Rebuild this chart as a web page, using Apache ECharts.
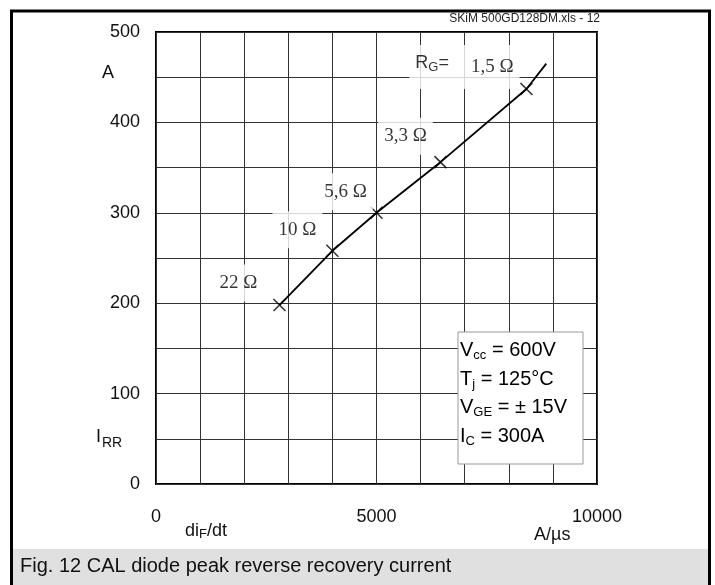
<!DOCTYPE html>
<html>
<head>
<meta charset="utf-8">
<script src="https://cdn.jsdelivr.net/npm/echarts@6/dist/echarts.min.js"></script>
<style>
html,body{margin:0;padding:0;background:#fff;}
#c{width:715px;height:585px;}
</style>
</head>
<body>
<div id="c"></div>
<script>
// ---- data ----
var curveX = [2800, 4000, 5000, 6450, 8400, 8850];
var curveY = [198, 258, 300, 356, 437, 465];
var pointX = [2800, 4000, 5000, 6450, 8400];
var pointY = [198, 258, 300, 356, 437];
var rgLabels = ['22 Ω', '10 Ω', '5,6 Ω', '3,3 Ω', '1,5 Ω'];
var xTickLabels = [0, 5000, 10000];
var yTickLabels = [0, 100, 200, 300, 400, 500];

var chart = echarts.init(document.getElementById('c'), null, {renderer: 'canvas'});

var SANS = 'Liberation Sans, Arial, sans-serif';
var SERIF = 'Liberation Serif, Times New Roman, serif';

var labelOffsets = [[-41, -22], [-35, -21], [-31, -21], [-35, -26], [-62, -22]];

var curveData = curveX.map(function (x, i) { return [x, curveY[i]]; });
var pointData = pointX.map(function (x, i) {
  var isLast = i === pointX.length - 1;
  return {
    value: [x, pointY[i]],
    label: {
      show: true,
      position: 'inside',
      offset: labelOffsets[i],
      formatter: isLast ? '{rg|R}{sub|G}{rg|=}{gap|}{om|' + rgLabels[i] + '}' : rgLabels[i],
      fontFamily: SERIF,
      fontSize: 19,
      color: '#000',
      backgroundColor: '#fff',
      padding: [9, 6, 9, 6],
      rich: isLast ? {
        rg: {fontFamily: SANS, fontSize: 18, color: '#000', padding: [0, 0, 8, 0]},
        sub: {fontFamily: SANS, fontSize: 13, color: '#000', padding: [0, 0, 0, 0]},
        gap: {width: 22},
        om: {fontFamily: SERIF, fontSize: 19, color: '#000'}
      } : undefined
    }
  };
});

var option = {
  animation: false,
  backgroundColor: '#fff',
  grid: {left: 156, top: 32, right: 118, bottom: 101, show: true, borderColor: '#000', borderWidth: 2, backgroundColor: 'transparent'},
  xAxis: {
    type: 'value', min: 0, max: 10000, interval: 1000,
    axisLine: {show: false}, axisTick: {show: false},
    splitLine: {show: true, lineStyle: {color: '#333', width: 1}},
    axisLabel: {
      margin: 24, fontFamily: SANS, fontSize: 18, color: '#111',
      formatter: function (v) { return xTickLabels.indexOf(v) >= 0 ? String(v) : ''; }
    }
  },
  yAxis: {
    type: 'value', min: 0, max: 500, interval: 50,
    axisLine: {show: false}, axisTick: {show: false},
    splitLine: {show: true, lineStyle: {color: '#333', width: 1}},
    axisLabel: {
      margin: 16, fontFamily: SANS, fontSize: 18, color: '#111',
      formatter: function (v) { return yTickLabels.indexOf(v) >= 0 ? String(v) : ''; }
    }
  },
  series: [
    {
      type: 'line', data: curveData, symbol: 'none', z: 3,
      lineStyle: {color: '#000', width: 1.8}
    },
    {
      type: 'scatter', data: pointData, z: 4,
      symbol: 'path://M0,0L10,10M10,0L0,10', symbolSize: 12,
      itemStyle: {color: 'rgba(0,0,0,0)', borderColor: '#000', borderWidth: 1.6}
    }
  ],
  graphic: [
    // outer frame
    {type: 'rect', shape: {x: 13, y: 549, width: 695, height: 36}, style: {fill: '#e0e0e0'}, z: 0},
    {type: 'line', shape: {x1: 10, y1: 11, x2: 711, y2: 11}, style: {stroke: '#000', lineWidth: 3}},
    {type: 'line', shape: {x1: 11.5, y1: 10, x2: 11.5, y2: 585}, style: {stroke: '#000', lineWidth: 3}},
    {type: 'line', shape: {x1: 709.5, y1: 10, x2: 709.5, y2: 585}, style: {stroke: '#000', lineWidth: 3}},
    {type: 'text', left: 20, top: 556, style: {text: 'Fig. 12 CAL diode peak reverse recovery current', font: '20px ' + SANS, fill: '#111'}},
    {type: 'text', right: 115, top: 13, style: {text: 'SKiM 500GD128DM.xls - 12', font: '12px ' + SANS, fill: '#222'}},
    // axis names
    {type: 'text', left: 102, top: 64, style: {text: 'A', font: '18px ' + SANS, fill: '#111'}},
    {type: 'text', left: 96, top: 428, style: {
      text: '{a|I}{s|RR}', rich: {a: {font: '18px ' + SANS, fill: '#111', verticalAlign: 'bottom'}, s: {font: '14px ' + SANS, fill: '#111', verticalAlign: 'bottom', padding: [0, 0, -4, 1]}}
    }},
    {type: 'text', left: 185, top: 522, style: {
      text: '{a|di}{s|F}{a|/dt}', rich: {a: {font: '18px ' + SANS, fill: '#111'}, s: {font: '13px ' + SANS, fill: '#111', padding: [6, 0, 0, 0]}}
    }},
    {type: 'text', left: 534, top: 526, style: {text: 'A/µs', font: '18px ' + SANS, fill: '#111'}},
    // conditions box
    {type: 'rect', shape: {x: 458, y: 332, width: 125, height: 132}, style: {fill: '#fff', stroke: '#999', lineWidth: 1}, z: 10},
    {type: 'text', left: 460, top: 339, z: 11, style: {
      text: '{n|V}{s|cc}{n| = 600V}\n{n|T}{s|j}{n| = 125°C}\n{n|V}{s|GE}{n| = ± 15V}\n{n|I}{s|C}{n| = 300A}',
      rich: {
        n: {fontFamily: SANS, fontSize: 20, color: '#111', lineHeight: 28.5},
        s: {fontFamily: SANS, fontSize: 13, color: '#111', lineHeight: 28.5, padding: [10, 0, 0, 0]}
      }
    }}
  ]
};
chart.setOption(option);
</script>
</body>
</html>
